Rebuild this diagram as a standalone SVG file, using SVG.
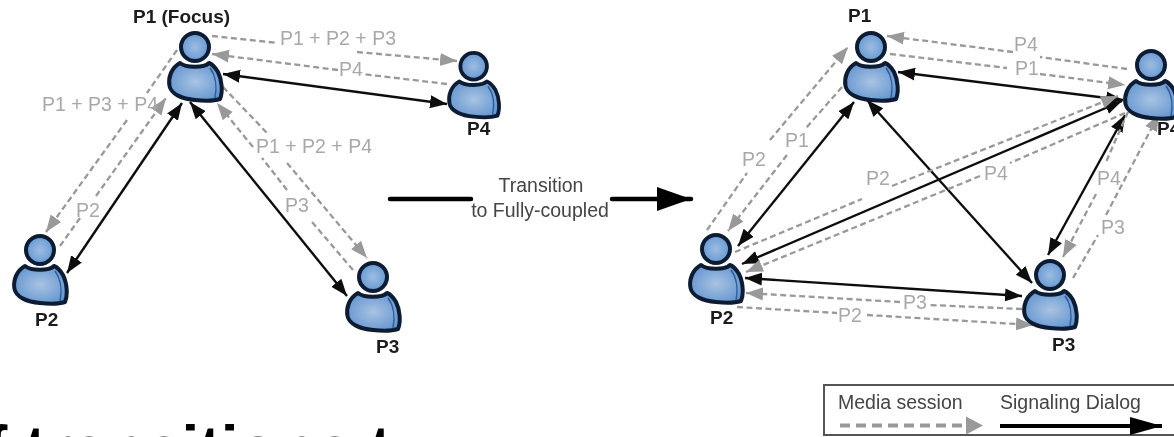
<svg xmlns="http://www.w3.org/2000/svg" width="1174" height="437" viewBox="0 0 1174 437">
<style>
text{font-family:"Liberation Sans",Arial,sans-serif}
.lb{font-size:19.5px;fill:#a8a8a8}
.nm{font-size:19px;font-weight:bold;fill:#1c1c1c}
.tx{font-size:19.5px;fill:#444}
.m{fill:none;stroke:#999;stroke-width:2.3;stroke-dasharray:6 3.5;marker-end:url(#g)}
.s{fill:none;stroke:#111;stroke-width:2.4;marker-start:url(#k);marker-end:url(#k)}
.ln{stroke:#aab5c4;fill:none}
</style>
<defs>
<filter id="soft" x="-2%" y="-2%" width="104%" height="104%"><feGaussianBlur stdDeviation="0.55"/></filter>
<radialGradient id="bd" cx="50%" cy="50%" r="60%"><stop offset="0" stop-color="#a9c3e2"/><stop offset="1" stop-color="#5f93cf"/></radialGradient>
<radialGradient id="hd" cx="50%" cy="50%" r="60%"><stop offset="0" stop-color="#9dbde2"/><stop offset="1" stop-color="#5d92cf"/></radialGradient>
<marker id="g" markerUnits="userSpaceOnUse" markerWidth="20" markerHeight="16" refX="17" refY="8" orient="auto"><path d="M0 1.5L17 8L0 14.5Z" fill="#999"/></marker>
<marker id="k" markerUnits="userSpaceOnUse" markerWidth="20" markerHeight="16" refX="17" refY="8" orient="auto-start-reverse"><path d="M0 1.5L17 8L0 14.5Z" fill="#0c0c0c"/></marker>
<marker id="kb" markerUnits="userSpaceOnUse" markerWidth="36" markerHeight="26" refX="34" refY="13" orient="auto"><path d="M0 1L34 13L0 25Z" fill="#000"/></marker>
<marker id="kl" markerUnits="userSpaceOnUse" markerWidth="34" markerHeight="22" refX="32" refY="11" orient="auto"><path d="M0 2L32 11L0 20Z" fill="#000"/></marker>
<marker id="gl" markerUnits="userSpaceOnUse" markerWidth="20" markerHeight="22" refX="17" refY="11" orient="auto"><path d="M0 2L17 11L0 20Z" fill="#999"/></marker>
<g id="person">
<path d="M12 31C3 36 0 46 1.500 54C3 62 14 67 27 68C36 69 46 69 52 67C55 60 54 48 50 40C47 35 44 32 41 31C36 36 18 36 12 31Z" fill="url(#bd)" stroke="#0a1c33" stroke-width="4" stroke-linejoin="round"/>
<path d="M42 36C48 44 49 56 47 66" fill="none" stroke="#2a5f9f" stroke-width="1.500"/>
<circle cx="27" cy="15" r="14" fill="url(#hd)" stroke="#0a1c33" stroke-width="4"/>
</g>
</defs>
<g filter="url(#soft)">
<g id="connectors">
<path class="s" d="M223 74L447 104"/>
<path class="s" d="M182 103L67 273"/>
<path class="s" d="M190 102L347 296"/>
<path class="m" d="M212 36L278 43M357 52L457 61"/>
<path class="m" d="M447 84L362 74M338 70L212 54"/>
<path class="m" d="M177 50L147 93M127 120L46 232"/>
<path class="m" d="M60 246L80 218M96 196L166 98"/>
<path class="m" d="M223 87L267 133M287 163L367 258"/>
<path class="m" d="M353 270L312 222M287 190L262 158M253 147L217 103"/>
<path class="s" d="M898 72L1123 100"/>
<path class="s" d="M854 102L738 246"/>
<path class="s" d="M867 100L1032 283"/>
<path class="s" d="M1122 101L742 264"/>
<path class="s" d="M1125 115L1048 255"/>
<path class="s" d="M745 278L1022 296"/>
<path class="m" d="M1127 69L1040 57M1013 52L887 36"/>
<path class="m" d="M890 54L1007 68M1040 74L1125 85"/>
<path class="m" d="M707 230L747 173M770 140L848 47"/>
<path class="m" d="M842 87L806 128M787 155L728 231"/>
<path class="m" d="M735 252L862 199M892 186L1118 96"/>
<path class="m" d="M1125 113L1010 163M980 176L746 272"/>
<path class="m" d="M737 307L837 313M867 315L1033 325"/>
<path class="m" d="M1022 309L930 305M900 302L746 293"/>
<path class="m" d="M1128 112L1118 160M1098 193L1063 257" style="display:none"/>
<path class="m" d="M1128 112L1120 130L1106 162M1096 194L1063 257"/>
<path class="m" d="M1073 278L1098 235M1106 215L1159 114"/>
<path d="M390 199L471 199M612 199L691 199" fill="none" stroke="#000" stroke-width="4.500" stroke-linecap="round" marker-end="url(#kb)"/>
<g class="lb" id="edge-labels">
<text x="280" y="45">P1 + P2 + P3</text>
<text x="339" y="76">P4</text>
<text x="42" y="111">P1 + P3 + P4</text>
<text x="256" y="153">P1 + P2 + P4</text>
<text x="76" y="217">P2</text>
<text x="285" y="212">P3</text>
<text x="1014" y="51">P4</text>
<text x="1015" y="75">P1</text>
<text x="742" y="166">P2</text>
<text x="785" y="147">P1</text>
<text x="866" y="185">P2</text>
<text x="984" y="180">P4</text>
<text x="903" y="309">P3</text>
<text x="838" y="322">P2</text>
<text x="1097" y="185">P4</text>
<text x="1101" y="234">P3</text>
</g>
<text class="tx" x="541" y="192" text-anchor="middle">Transition</text>
<text class="tx" x="540" y="217" text-anchor="middle">to Fully-coupled</text>
</g>
<g id="left-p1"><use href="#person" transform="translate(168,32)"/><text class="nm" x="133" y="23">P1 (Focus)</text></g>
<g id="left-p4"><use href="#person" transform="translate(448,52) scale(.95)"/><text class="nm" x="467" y="135">P4</text></g>
<g id="left-p2"><use href="#person" transform="translate(13,235)"/><text class="nm" x="35" y="326">P2</text></g>
<g id="left-p3"><use href="#person" transform="translate(346,262)"/><text class="nm" x="376" y="353">P3</text></g>
<g id="right-p1"><use href="#person" transform="translate(844,32)"/><text class="nm" x="848" y="22">P1</text></g>
<g id="right-p4"><use href="#person" transform="translate(1124,50)"/><text class="nm" x="1157" y="135">P4</text></g>
<g id="right-p2"><use href="#person" transform="translate(689,234)"/><text class="nm" x="710" y="324">P2</text></g>
<g id="right-p3"><use href="#person" transform="translate(1023,260)"/><text class="nm" x="1052" y="351">P3</text></g>
<g id="legend">
<rect x="824" y="385" width="360" height="50" fill="none" stroke="#555" stroke-width="2"/>
<text class="tx" x="838" y="409">Media session</text>
<text class="tx" x="1000" y="409">Signaling Dialog</text>
<path d="M840 425.500L983 425.500" fill="none" stroke="#999" stroke-width="4" stroke-dasharray="10 6" marker-end="url(#gl)"/>
<path d="M1000 426L1162 426" fill="none" stroke="#000" stroke-width="4" marker-end="url(#kl)"/>
</g>
</g>
<text x="-14" y="471" font-size="64" font-weight="bold" fill="#000">f transitions t</text>
</svg>
